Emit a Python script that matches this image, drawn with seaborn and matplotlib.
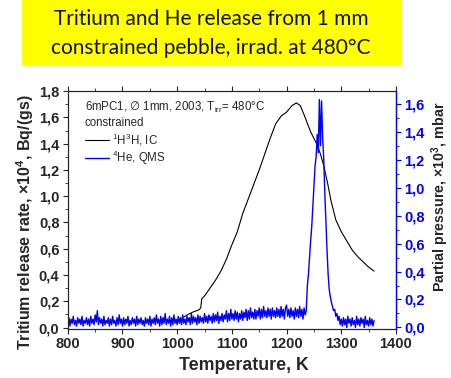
import numpy as np
import matplotlib
matplotlib.use("Agg")
import matplotlib.pyplot as plt
from matplotlib.patches import Rectangle
from matplotlib.ticker import FuncFormatter, MultipleLocator
import seaborn as sns
import pandas as pd

# tritium release rate (IC), x10^4 Bq/(gs)
t_temp = [1012, 1020, 1030, 1040, 1043, 1045, 1050, 1060, 1070, 1080, 1090,
          1100, 1110, 1120, 1130, 1140, 1150, 1160, 1170, 1180, 1190, 1200,
          1210, 1218, 1225, 1232, 1244, 1256, 1262, 1268, 1275, 1281, 1290,
          1300, 1310, 1320, 1330, 1340, 1350, 1360]
t_rate = [0.08, 0.10, 0.12, 0.135, 0.15, 0.22, 0.24, 0.30, 0.36, 0.43, 0.52,
          0.63, 0.73, 0.87, 0.98, 1.09, 1.20, 1.32, 1.44, 1.55, 1.61, 1.64,
          1.69, 1.71, 1.69, 1.62, 1.49, 1.39, 1.32, 1.23, 1.10, 0.97, 0.82,
          0.73, 0.66, 0.59, 0.54, 0.50, 0.46, 0.43]

# 4He partial pressure (QMS), x10^3 mbar, sampled every 2 K from 800 to 1360 K
he_temp = np.arange(800, 1362, 2)
he_pres = [
    # 800 - 1000
    0.02, 0.07, 0.01, 0.06, 0.03, 0.08, 0.02, 0.05, 0.01, 0.07,
    0.03, 0.06, 0.02, 0.08, 0.01, 0.05, 0.03, 0.07, 0.02, 0.06,
    0.01, 0.08, 0.03, 0.06, 0.02, 0.09, 0.04, 0.12, 0.02, 0.07,
    0.03, 0.06, 0.01, 0.08, 0.02, 0.05, 0.03, 0.07, 0.01, 0.06,
    0.02, 0.08, 0.03, 0.05, 0.01, 0.07, 0.02, 0.09, 0.03, 0.06,
    0.01, 0.07, 0.02, 0.06, 0.03, 0.08, 0.01, 0.05, 0.02, 0.07,
    0.03, 0.06, 0.01, 0.08, 0.02, 0.06, 0.03, 0.07, 0.02, 0.05,
    0.01, 0.07, 0.03, 0.06, 0.02, 0.08, 0.01, 0.06, 0.03, 0.07,
    0.02, 0.09, 0.03, 0.06, 0.01, 0.08, 0.02, 0.07, 0.03, 0.10,
    0.02, 0.06, 0.03, 0.08, 0.01, 0.07, 0.02, 0.09, 0.03, 0.06,
    0.02,
    # 1002 - 1100
    0.08, 0.03, 0.07, 0.02, 0.09, 0.03, 0.06, 0.02, 0.08, 0.04,
    0.07, 0.02, 0.10, 0.03, 0.08, 0.04, 0.07, 0.02, 0.09, 0.03,
    0.08, 0.04, 0.07, 0.03, 0.10, 0.04, 0.08, 0.03, 0.09, 0.05,
    0.08, 0.03, 0.10, 0.04, 0.09, 0.05, 0.11, 0.03, 0.08, 0.05,
    0.10, 0.04, 0.09, 0.06, 0.12, 0.04, 0.10, 0.05, 0.13, 0.06,
    # 1102 - 1234
    0.10, 0.05, 0.12, 0.06, 0.11, 0.04, 0.10, 0.06, 0.12, 0.05,
    0.11, 0.07, 0.13, 0.05, 0.12, 0.06, 0.14, 0.07, 0.11, 0.06,
    0.13, 0.06, 0.12, 0.08, 0.14, 0.06, 0.13, 0.07, 0.15, 0.08,
    0.12, 0.07, 0.14, 0.08, 0.13, 0.06, 0.14, 0.08, 0.12, 0.07,
    0.14, 0.08, 0.13, 0.07, 0.15, 0.08, 0.13, 0.06, 0.14, 0.16,
    0.08, 0.13, 0.07, 0.14, 0.08, 0.12, 0.06, 0.14, 0.08, 0.13,
    0.07, 0.15, 0.08, 0.13, 0.06, 0.14, 0.09,
    # 1236 - 1300 (peak)
    0.12, 0.30, 0.38, 0.50, 0.62, 0.72, 0.86, 1.00, 1.15, 1.22,
    1.38, 1.25, 1.63, 1.30, 1.62, 1.35, 1.20, 0.95, 0.74, 0.55,
    0.38, 0.27, 0.22, 0.18, 0.15, 0.12, 0.13, 0.08, 0.10, 0.05,
    0.08, 0.02, 0.06,
    # 1302 - 1360
    0.01, 0.07, 0.02, 0.06, 0.00, 0.08, 0.03, 0.06, 0.01, 0.07,
    0.02, 0.05, 0.00, 0.08, 0.02, 0.06, 0.01, 0.07, 0.03, 0.06,
    0.00, 0.08, 0.02, 0.05, 0.01, 0.07, 0.02, 0.06, 0.01, 0.05,
]

title = "Tritium and He release from 1 mm\nconstrained pebble, irrad. at 480°C"
header = ["6mPC1, $\\mathrm{\\emptyset}$ 1mm, 2003, T$_{irr}$= 480°C",
          "constrained"]
labels = ["$^{1}$H$^{3}$H, IC", "$^{4}$He, QMS"]

sns.set_style("ticks")
plt.rcParams["font.family"] = ["Liberation Sans", "DejaVu Sans"]
plt.rcParams["mathtext.fontset"] = "custom"
plt.rcParams["mathtext.rm"] = "DejaVu Sans"
plt.rcParams["mathtext.default"] = "regular"

tritium = pd.DataFrame({"T": t_temp, "rate": t_rate})
helium = pd.DataFrame({"T": he_temp, "p": he_pres})

fig = plt.figure(figsize=(4.52, 3.78), dpi=100)
ax = fig.add_axes([0.150, 0.130, 0.726, 0.629])
ax2 = ax.twinx()

sns.lineplot(data=tritium, x="T", y="rate", ax=ax, color="black", lw=0.8)
sns.lineplot(data=helium, x="T", y="p", ax=ax2, color="#0000ff", lw=1.0)

comma = FuncFormatter(lambda v, _: f"{v:.1f}".replace(".", ","))

ax.set_xlim(800, 1400)
ax.set_ylim(-0.01, 1.8)
ax2.set_ylim(-0.01, 1.69)
ax.xaxis.set_major_locator(MultipleLocator(100))
ax.xaxis.set_minor_locator(MultipleLocator(50))
ax.yaxis.set_major_locator(MultipleLocator(0.2))
ax.yaxis.set_minor_locator(MultipleLocator(0.1))
ax2.yaxis.set_major_locator(MultipleLocator(0.2))
ax2.yaxis.set_minor_locator(MultipleLocator(0.1))
ax.yaxis.set_major_formatter(comma)
ax2.yaxis.set_major_formatter(comma)

ax.tick_params(axis="both", which="major", labelsize=10.5, length=3.5,
               width=0.8, direction="out", top=True, pad=2.5)
ax.tick_params(axis="both", which="minor", length=2, width=0.6,
               direction="out", top=True)
for lab in ax.get_xticklabels() + ax.get_yticklabels():
    lab.set_fontweight("bold")

ax2.tick_params(axis="y", which="major", labelsize=10.5, length=3.5, width=0.8,
                colors="#0000ff", pad=2.5)
ax2.tick_params(axis="y", which="minor", length=2, width=0.6, colors="#0000ff")
for lab in ax2.get_yticklabels():
    lab.set_fontweight("bold")
ax2.spines["right"].set_color("#0000ff")
ax2.spines["right"].set_linewidth(1.0)

ax.set_xlabel("Temperature, K", fontsize=12.8, fontweight="bold", labelpad=4.5)
ax.set_ylabel("Tritium release rate, ×10$^{4}$, Bq/(gs)", fontsize=11.5,
              fontweight="bold", labelpad=2)
ax2.set_ylabel("Partial pressure, ×10$^{3}$, mbar", fontsize=10.3,
               fontweight="bold", labelpad=3)
ax.xaxis.label.set_x(0.536)
ax.yaxis.label.set_y(0.45)
ax2.yaxis.label.set_y(0.555)

ax.text(0.052, 0.933, header[0], transform=ax.transAxes, fontsize=8.3,
        va="center", ha="left")
ax.text(0.052, 0.866, header[1], transform=ax.transAxes, fontsize=8.3,
        va="center", ha="left")
ax.legend([ax.lines[0], ax2.lines[0]], labels,
          loc="upper left", bbox_to_anchor=(0.052, 0.83), frameon=False,
          fontsize=8.3, handlelength=2.1, handletextpad=0.25, labelspacing=0.12,
          borderaxespad=0, borderpad=0)

fig.patches.append(Rectangle((0.049, 0.828), 0.840, 0.172,
                             transform=fig.transFigure, facecolor="#ffff00",
                             edgecolor="none", zorder=0))
fig.text(0.467, 0.912, title, ha="center", va="center", fontsize=15,
         family=["Lato", "DejaVu Sans"], linespacing=1.55, color="#111111")

fig.savefig("out.png", dpi=100)
